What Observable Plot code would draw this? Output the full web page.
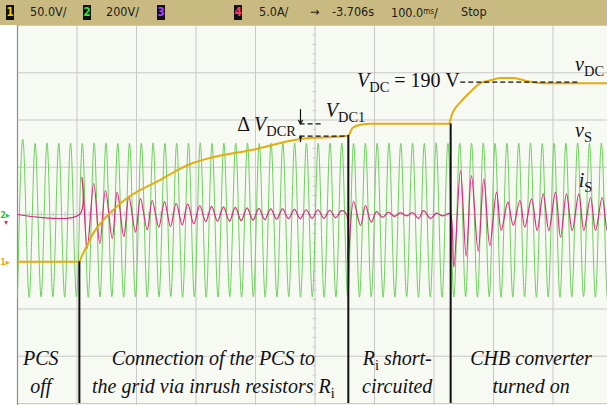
<!DOCTYPE html>
<html><head><meta charset="utf-8">
<script src="https://cdn.jsdelivr.net/npm/d3@7"></script>
<script src="https://cdn.jsdelivr.net/npm/@observablehq/plot@0.6"></script>
<style>
html,body{margin:0;padding:0;background:#fff;overflow:hidden;width:607px;height:405px;}
#hdr{position:relative;width:607px;height:25px;background:#c8ba80;font-family:"DejaVu Sans Condensed","DejaVu Sans",sans-serif;font-size:12.5px;color:#1c1c1c;}
#hdr span{position:absolute;top:4px;line-height:16px;white-space:nowrap;}
#hdr span.box{background:#111;width:8px;height:15px;top:5px;text-align:center;font-weight:bold;font-size:11.5px;line-height:15px;}
#chart svg{display:block}
</style></head><body>
<div id="hdr"></div>
<div id="chart"></div>
<script>
// ---------- header (scope status bar) ----------
const headerItems = [
  {box:"1", color:"#f2d200", left:6},
  {text:"50.0V/", left:30},
  {box:"2", color:"#3ee03e", left:83},
  {text:"200V/", left:106},
  {box:"3", color:"#b040ff", left:157},
  {box:"4", color:"#ff3a6a", left:234},
  {text:"5.0A/", left:259},
  {text:"\u2192", left:310},
  {text:"-3.706s", left:332},
  {html:"100.0<span style='position:static;font-size:8px;vertical-align:3px'>ms</span>/", left:391},
  {text:"Stop", left:461}
];

// ---------- data ----------
// grid (10 x 8 divisions), time in ms (100 ms/div)
const gridT = [0,100,200,300,400,500,600,700,800,900,1000];
const gridDiv = [-4,-3,-2,-1,0,1,2,3,4];
// channel settings: units per division and ground offset (div)
const ch1 = {perDiv:50, offset:-1.0};    // v_DC  (V)
const ch2 = {perDiv:200, offset:-0.12};  // v_S   (V)
const ch4 = {perDiv:5, offset:0};        // i_S   (A)

// v_DC trace: time (ms), volts
const vdcT = [0,104,108,114.3,127.7,144.5,164.7,184.9,206.7,240.3,268.9,295.8,324.4,391.6,475.6,551.3,556.3,563,576.5,593.3,724.4,731.1,744.5,761.3,778.2,795,811.8,833.6,857.1,884,1000];
const vdcV = [0,0,6,13.7,30.7,44.4,57,67.7,76,86.7,97,104.7,110,118,130,133,133.7,141.6,145,146,146,157.5,169,180,189,192,194.5,194.5,191,189,189];

// v_S grid voltage: successive extremes (V), 50 Hz
const vsHalfPeriod = 9.91; // ms
const vsPeaks = [-325,326,-326,325,-325,327,-324,326,-326,326,-325,325,-326,327,-325,326,-324,325,-326,326,
  -325,326,-326,327,-325,325,-324,326,-326,326,-325,327,-326,325,-325,326,-324,326,-326,327,
  -325,325,-326,326,-325,326,-324,327,-326,325,-325,326,-326,326,-325,327,-324,325,-326,326,
  -325,326,-326,327,-325,325,-324,326,-326,326,-325,327,-326,325,-325,326,-324,326,-326,327,
  -325,325,-326,326,-325,326,-324,327,-326,325,-325,326,-326,326,-325,327,-324,325,-326,326,-325,326];

// i_S grid current: time (ms), amps
const isT = [0,104.2,108.7,117.1,128.2,138.3,147.9,159.2,167.6,178.7,187.1,198.3,206.7,218,226.4,237.5,247.1,257.1,266.7,276.8,286.2,296.3,306.4,316.3,326.2,336.1,346.2,356.3,366.1,376,385.9,395.8,405.7,415.6,425.6,435.5,445.4,455.5,465.4,475.3,485.2,495.1,505,515,524.9,534.8,544.7,553,555.5,564.7,576.5,584.9,594.5,603.4,613.5,623.5,633.6,643.7,653.8,663.9,674,682.4,694.1,704.2,714.3,724.4,727.7,733.3,744.5,754.1,763,774.3,783.7,793.8,805.1,813,824.1,833.2,844.3,852.6,863.9,873.4,883.5,893,904.2,912.6,922.7,932.3,943.4,951.8,963.1,971.5,982.7,991.6,1000];
const isA = [0,0,3.94,-3.59,3.28,-3.07,2.54,-2.54,2.36,-2.33,1.9,-1.87,1.69,-1.62,1.48,-1.34,1.37,-1.27,1.19,-1.09,1.13,-0.98,0.95,-0.75,0.85,-0.7,0.8,-0.7,0.75,-0.65,0.7,-0.6,0.65,-0.55,0.6,-0.5,0.6,-0.45,0.55,-0.45,0.5,-0.4,0.5,-0.4,0.45,-0.35,0.4,0,-5.0,1.4,-1.17,0.95,-0.81,0.3,-0.3,0.25,-0.2,0.2,-0.15,0.2,-0.42,0.4,-0.42,0.15,-0.15,0.1,0.1,-5.57,4.65,-4.44,4.12,-3.9,3.77,-3.28,2.36,-1.69,1.3,-1.16,1.48,-1.34,1.66,-1.69,2.18,-1.69,2.36,-2.4,2.18,-1.69,2.18,-1.69,1.8,-1.69,1.8,-1.8,0.5];

// switching events: time (ms) and v_DC at that instant (V) -> black markers
const eventT = [104, 556, 728];
const eventTopV = [0, 133.7, 146];
const vdcFinal = 190, vdc1 = 146, vdcBeforeShort = 133;

// phase labels: centre time (ms)
const phaseCenters = [40, 330, 639, 864];
const phaseLabels = [
  [[["PCS","i"]],[["off","i"]]],
  [[["Connection of the PCS to","i"]],[["the grid via inrush resistors ","i"],["R","i"],["i","s"]]],
  [[["R","i"],["i","s"],[" short-","i"]],[["circuited","i"]]],
  [[["CHB converter","i"]],[["turned on","i"]]]
];

// ---------- build ----------
const hdr = document.getElementById("hdr");
for (const h of headerItems) {
  const s = document.createElement("span");
  s.style.left = h.left + "px";
  if (h.box) { s.className = "box"; s.textContent = h.box; s.style.color = h.color; }
  else if (h.html) s.innerHTML = h.html;
  else s.textContent = h.text;
  hdr.appendChild(s);
}

const toDiv = (v, ch) => v / ch.perDiv + ch.offset;
const vdcData = vdcT.map((t,i) => ({t, d: toDiv(vdcV[i], ch1)}));
const vsData = vsPeaks.map((v,k) => ({t: k*vsHalfPeriod, d: toDiv(v, ch2)}));
const isData = isT.map((t,i) => ({t, d: toDiv(isA[i], ch4)}));
const events = eventT.map((t,i) => ({t, top: toDiv(eventTopV[i], ch1)}));
const minorY = d3.range(-4, 4.001, 0.2);
const minorT = d3.range(0, 1000.1, 20);

const gridColor = "#c9c9c9";
const plot = Plot.plot({
  width: 607, height: 380,
  marginLeft: 17, marginRight: 0, marginTop: 0, marginBottom: 0,
  style: {background: "transparent", overflow: "visible"},
  x: {domain: [0, 1000], range: [17, 612], axis: null},
  y: {domain: [-4, 4], range: [378, 0], axis: null},
  marks: [
    Plot.frame({fill: "#f7f9f3", stroke: "none"}),
    Plot.ruleX(gridT, {stroke: gridColor, strokeWidth: 1}),
    Plot.ruleY(gridDiv, {stroke: gridColor, strokeWidth: 1}),
    Plot.ruleY(minorY, {x1: 500 - 3, x2: 500 + 3, stroke: gridColor}),
    Plot.ruleX(minorT, {y1: -0.05, y2: 0.05, stroke: gridColor}),
    Plot.ruleX([0], {stroke: "#8c8c8c", strokeWidth: 1.2}),
    Plot.line(vsData, {x: "t", y: "d", stroke: "#6fcf5e", strokeWidth: 1, curve: "natural"}),
    Plot.line(isData, {x: "t", y: "d", stroke: "#d62e7e", strokeWidth: 1.2, curve: "catmull-rom"}),
    Plot.line(vdcData, {x: "t", y: "d", stroke: "#e6ac0c", strokeWidth: 2, curve: "monotone-x"}),
    Plot.ruleX(events, {x: "t", y1: "top", y2: -4, stroke: "#111", strokeWidth: 2}),
    // V_DC = 190 V reference
    Plot.ruleY([toDiv(vdcFinal, ch1)], {x1: 745, x2: 942, stroke: "#111", strokeWidth: 1.2, strokeDasharray: "5,3"}),
    // Delta V_DCR dimension lines
    Plot.ruleY([toDiv(vdc1, ch1)], {x1: 475, x2: 514, stroke: "#111", strokeWidth: 1.2, strokeDasharray: "5,3"}),
    Plot.ruleY([toDiv(vdcBeforeShort, ch1)], {x1: 475, x2: 556, stroke: "#111", strokeWidth: 1.2, strokeDasharray: "5,3"}),
    Plot.arrow([{x: 475.6, y1: toDiv(vdc1, ch1) + 0.3, y2: toDiv(vdc1, ch1)}], {x1: "x", x2: "x", y1: "y1", y2: "y2", stroke: "#111", strokeWidth: 1.2, headLength: 5, bend: 0}),
    Plot.arrow([{x: 475.6, y1: toDiv(vdcBeforeShort, ch1) - 0.12, y2: toDiv(vdcBeforeShort, ch1)}], {x1: "x", x2: "x", y1: "y1", y2: "y2", stroke: "#111", strokeWidth: 1.2, headLength: 5, bend: 0})
  ]
});
document.getElementById("chart").appendChild(plot);

// ---------- text annotations (positioned through the plot's scales) ----------
const sx = plot.scale("x"), sy = plot.scale("y");
const svg = d3.select(plot);
const serif = "'Liberation Serif','Times New Roman',serif";

function richText(g, x, y, parts, anchor, size) {
  const t = g.append("text").attr("x", x).attr("y", y).attr("text-anchor", anchor)
    .attr("font-family", serif).attr("font-size", size).attr("fill", "#111");
  let inSub = false;
  for (const [str, st] of parts) {
    const sp = t.append("tspan").text(str);
    if (st === "s") {
      sp.attr("font-size", size * 0.72).attr("font-style", "normal");
      if (!inSub) sp.attr("dy", size * 0.25);
      inSub = true;
    } else {
      sp.attr("font-style", st === "i" ? "italic" : "normal");
      if (inSub) sp.attr("dy", -size * 0.25);
      inSub = false;
    }
  }
  return t;
}

const annots = [
  {t: 744, d: 2.69, anchor: "end", parts: [["V","i"],["DC","s"],[" = 190 V","n"]]},
  {t: 938, d: 3.03, anchor: "start", parts: [["v","i"],["DC","s"]]},
  {t: 938, d: 1.63, anchor: "start", parts: [["v","i"],["S","s"]]},
  {t: 944, d: 0.57, anchor: "start", parts: [["i","i"],["S","s"]]},
  {t: 370, d: 1.76, anchor: "start", parts: [["\u0394\u2009","n"],["V","i"],["DCR","s"]]},
  {t: 519, d: 2.05, anchor: "start", parts: [["V","i"],["DC1","s"]]}
];
const ga = svg.append("g");
for (const a of annots) richText(ga, sx.apply(a.t), sy.apply(a.d), a.parts, a.anchor, 20);

const lineDivs = [-3.2, -3.78];
phaseLabels.forEach((lines, i) => {
  lines.forEach((parts, j) => richText(ga, sx.apply(phaseCenters[i]), sy.apply(lineDivs[j]), parts, "middle", 20));
});

// ground markers in the left margin
const gm = svg.append("g").attr("font-family", "'DejaVu Sans Condensed','DejaVu Sans',sans-serif").attr("font-size", 9).attr("font-weight", "bold");
gm.append("text").attr("x", 5).attr("y", sy.apply(ch1.offset) + 3.5).attr("fill", "#e6ac0c").text("1\u25B8");
gm.append("text").attr("x", 5).attr("y", sy.apply(ch4.offset) + 3.5).attr("fill", "#3cbf3c").text("2\u25B8");
gm.append("text").attr("x", 6).attr("y", sy.apply(ch4.offset) + 11).attr("fill", "#d62e7e").attr("font-size", 8).text("\u25BE");
</script></body></html>
